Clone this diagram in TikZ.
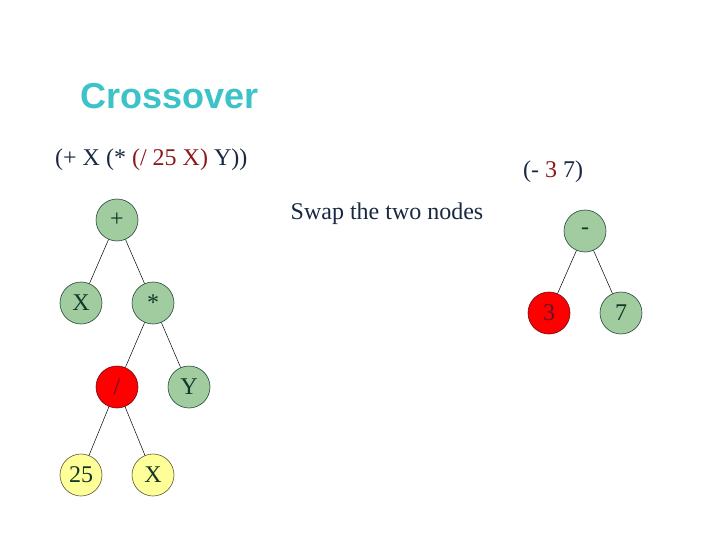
\documentclass[tikz,border=0pt]{standalone}
\usepackage{fontspec}
\setmainfont{Liberation Serif}
\newfontfamily\titlefont{Liberation Sans}
\definecolor{gfill}{RGB}{160,204,160}
\definecolor{gline}{RGB}{40,70,55}
\definecolor{rfill}{RGB}{255,0,0}
\definecolor{rline}{RGB}{110,10,20}
\definecolor{yfill}{RGB}{255,255,153}
\definecolor{yline}{RGB}{90,90,50}
\definecolor{ntext}{RGB}{20,55,40}
\definecolor{rtext}{RGB}{100,20,40}
\definecolor{navy}{RGB}{25,40,65}
\definecolor{dred}{RGB}{140,25,25}
\definecolor{teal}{RGB}{60,195,200}
\tikzset{
  tnode/.style={circle, minimum size=42pt, inner sep=0pt, line width=0.6pt, font=\fontsize{24}{26}\selectfont, text=ntext},
  gnode/.style={tnode, draw=gline, fill=gfill},
  rnode/.style={tnode, draw=rline, fill=rfill, text=rtext},
  ynode/.style={tnode, draw=yline, fill=yfill},
  edge/.style={draw=black, line width=0.5pt},
  lbl/.style={font=\fontsize{24}{26}\selectfont, text=navy, inner sep=0pt}
}
\begin{document}
\begin{tikzpicture}[x=1pt,y=-1pt]
\useasboundingbox (0,0) rectangle (720,540);
\node[anchor=base west, inner sep=0pt, text=teal, font=\titlefont\bfseries\fontsize{36}{39}\selectfont] (title) at (80,109) {Crossover};
\node[lbl, anchor=base west] (expr1) at (55,166) {(+ X (* \textcolor{dred}{(/ 25 X)} Y))};
\node[lbl, anchor=base] (expr2) at (553,178) {(- \textcolor{dred}{3} 7)};
\node[lbl, anchor=base] (swap) at (387,219) {Swap the two nodes};

\node[gnode] (plus) at (117,220) {+};
\node[gnode] (x1) at (81,303) {X};
\node[gnode] (times) at (153,303) {*};
\node[rnode] (div) at (117,387) {/};
\node[gnode] (y) at (189,387) {Y};
\node[ynode] (n25) at (81,475) {25};
\node[ynode] (x2) at (153,475) {X};

\node[gnode] (minus) at (585,231) {-};
\node[rnode] (n3) at (549,313) {3};
\node[gnode] (n7) at (621,313) {7};

\draw[edge] (plus) -- (x1);
\draw[edge] (plus) -- (times);
\draw[edge] (times) -- (div);
\draw[edge] (times) -- (y);
\draw[edge] (div) -- (n25);
\draw[edge] (div) -- (x2);
\draw[edge] (minus) -- (n3);
\draw[edge] (minus) -- (n7);
\end{tikzpicture}
\end{document}
